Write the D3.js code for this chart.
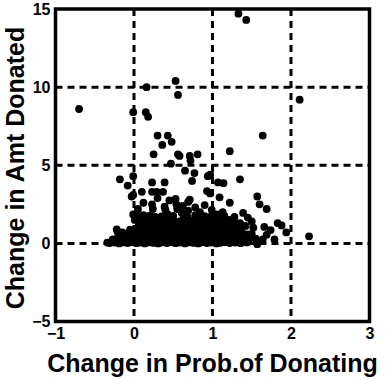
<!DOCTYPE html>
<html>
<head>
<meta charset="utf-8">
<script src="https://cdn.jsdelivr.net/npm/d3@7"></script>
<style>
  body { margin: 0; background: #fff; }
  text { font-family: "Liberation Sans", Arial, sans-serif; font-weight: bold; fill: #000; }
</style>
</head>
<body>
<div id="chart"></div>
<script>
// axis ticks
const xTicks = [-1, 0, 1, 2, 3];
const yTicks = [-5, 0, 5, 10, 15];
const xGrid = [0, 1, 2];
const yGrid = [0, 5, 10];

// [change in prob. of donating, change in amt donated]
const outlierPts = [
  [1.33, 14.7], [1.43, 14.3], [2.11, 9.2], [1.64, 6.9], [1.22, 5.9], [-0.70, 8.6],
  [-0.01, 8.4], [0.16, 10.0], [0.15, 8.4], [0.18, 8.1], [0.53, 10.4], [0.56, 9.5],
  [0.30, 6.9], [0.43, 6.9], [0.36, 6.3], [0.48, 6.5], [0.25, 5.7], [0.56, 5.7],
  [0.47, 5.1], [0.71, 5.6], [0.81, 5.7], [0.72, 5.3], [0.58, 5.6], [0.65, 4.65],
  [0.77, 4.5], [0.74, 4.0], [0.94, 4.3], [0.97, 4.4], [1.07, 3.9], [1.14, 3.85],
  [1.35, 4.1], [1.57, 3.0], [-0.18, 4.1], [-0.08, 3.7], [-0.01, 4.3], [0.23, 3.9],
  [0.39, 3.9], [0.23, 3.3], [0.29, 3.3], [0.37, 3.3], [-0.03, 3.0], [0.93, 3.35],
  [0.97, 3.2], [1.09, 2.95], [0.53, 2.85], [0.71, 2.8], [1.22, 2.6], [1.60, 2.5],
  [1.69, 2.2], [2.23, 0.45]
];

const upperPts = [
  [-0.01, 3.1], [0.23, 2.5], [0.39, 2.35], [0.54, 2.5], [0.69, 2.65], [0.90, 2.45],
  [0.12, 2.6], [0.30, 2.9], [0.45, 2.75], [0.62, 2.4], [0.78, 2.3], [0.10, 3.3],
  [0.05, 2.2], [0.24, 2.2], [0.40, 2.15], [0.55, 2.2], [0.69, 2.1], [0.84, 2.0],
  [0.99, 2.15], [1.13, 2.0], [1.39, 1.95], [-0.01, 1.85], [0.12, 1.8], [0.27, 1.7],
  [0.43, 1.85], [0.61, 1.95], [0.78, 1.8], [0.90, 1.75], [1.06, 1.85], [1.28, 1.7],
  [0.05, 1.75], [0.20, 1.78], [0.35, 1.72], [0.50, 1.76], [0.68, 1.7], [0.85, 1.82],
  [0.98, 1.72], [1.15, 1.78], [1.45, 1.65],
  [0.01, 1.5], [0.17, 1.5], [0.30, 1.45], [0.42, 1.5], [0.52, 1.4], [0.63, 1.55],
  [0.73, 1.45], [0.84, 1.5], [0.93, 1.4], [1.03, 1.55], [1.13, 1.6], [1.21, 1.5],
  [1.35, 1.3], [1.50, 1.4], [1.83, 1.3], [1.66, 1.05], [1.69, 0.55], [1.64, 0.25],
  [1.79, 0.25], [1.94, 0.7], [1.57, -0.05], [1.88, 1.15], [-0.21, 0.75], [-0.15, 0.7],
  [-0.24, 0.25], [-0.34, 0.05], [1.50, 0.6], [1.55, 0.3], [1.52, 1.0], [1.74, 0.85]
];

const bandPts = [
  [-0.31, 0.02], [-0.25, 0.05], [-0.19, 0.0], [-0.13, 0.06], [-0.08, 0.02], [-0.03, 0.08],
  [0.03, 0.01], [0.08, 0.05], [0.14, 0.0], [0.20, 0.07], [0.25, 0.03], [0.31, 0.0],
  [0.36, 0.06], [0.42, 0.02], [0.48, 0.08], [0.53, 0.01], [0.59, 0.05], [0.65, 0.0],
  [0.70, 0.06], [0.76, 0.03], [0.82, 0.0], [0.87, 0.07], [0.93, 0.02], [0.99, 0.05],
  [1.05, 0.0], [1.10, 0.04], [1.16, 0.08], [1.22, 0.02], [1.29, 0.05], [1.36, 0.01],
  [1.44, 0.06],
  [-0.27, 0.25], [-0.20, 0.32], [-0.14, 0.28], [-0.09, 0.35], [-0.03, 0.30], [0.02, 0.27],
  [0.07, 0.34], [0.13, 0.30], [0.18, 0.36], [0.24, 0.28], [0.29, 0.33], [0.35, 0.30],
  [0.41, 0.37], [0.46, 0.29], [0.52, 0.32], [0.57, 0.36], [0.63, 0.28], [0.69, 0.34],
  [0.74, 0.31], [0.80, 0.37], [0.86, 0.29], [0.91, 0.33], [0.97, 0.30], [1.03, 0.36],
  [1.08, 0.28], [1.14, 0.32], [1.20, 0.35], [1.27, 0.29], [1.33, 0.33], [1.40, 0.27],
  [1.47, 0.30],
  [-0.17, 0.58], [-0.10, 0.62], [-0.04, 0.55], [0.01, 0.64], [0.06, 0.60], [0.12, 0.57],
  [0.17, 0.66], [0.23, 0.60], [0.28, 0.63], [0.34, 0.56], [0.39, 0.65], [0.45, 0.60],
  [0.50, 0.58], [0.56, 0.66], [0.62, 0.61], [0.67, 0.55], [0.73, 0.64], [0.78, 0.60],
  [0.84, 0.67], [0.90, 0.58], [0.95, 0.62], [1.01, 0.65], [1.07, 0.57], [1.12, 0.63],
  [1.18, 0.60], [1.25, 0.66], [1.31, 0.56], [1.38, 0.62], [1.45, 0.58],
  [-0.22, 0.90], [-0.05, 0.88], [0.03, 0.93], [0.09, 0.86], [0.15, 0.95], [0.20, 0.90],
  [0.26, 0.87], [0.31, 0.96], [0.37, 0.91], [0.43, 0.88], [0.48, 0.97], [0.54, 0.92],
  [0.60, 0.86], [0.65, 0.95], [0.71, 0.90], [0.77, 0.98], [0.82, 0.88], [0.88, 0.93],
  [0.94, 0.96], [0.99, 0.87], [1.05, 0.92], [1.11, 0.97], [1.17, 0.89], [1.23, 0.94],
  [1.30, 0.90], [1.37, 0.86],
  [0.06, 1.18], [0.14, 1.22], [0.22, 1.16], [0.29, 1.25], [0.35, 1.20], [0.41, 1.15],
  [0.48, 1.24], [0.55, 1.19], [0.62, 1.27], [0.69, 1.17], [0.75, 1.22], [0.81, 1.26],
  [0.88, 1.18], [0.95, 1.23], [1.02, 1.16], [1.09, 1.25], [1.16, 1.20], [1.25, 1.14],
  [1.32, 1.21],
  [0.08, 1.42], [0.24, 1.38], [0.36, 1.44], [0.47, 1.36], [0.58, 1.41], [0.68, 1.35],
  [0.79, 1.43], [0.89, 1.37], [0.98, 1.45], [1.08, 1.38], [1.17, 1.42], [1.28, 1.36],
  [1.42, 1.12]
];

function drawSvg() {
    d3.selectAll("svg").remove();

    const width = 385, height = 380;
    const plot = { left: 55.5, right: 369.5, top: 9, bottom: 321.5 };

    const svg = d3.select("#chart")
        .append("svg")
        .attr("width", width)
        .attr("height", height);

    const x = d3.scaleLinear().domain([-1, 3]).range([plot.left, plot.right]);
    const y = d3.scaleLinear().domain([-5, 15]).range([plot.bottom, plot.top]);

    // dashed grid
    svg.append("g").selectAll("line")
        .data(xGrid)
        .enter()
        .append("line")
        .attr("x1", d => x(d)).attr("x2", d => x(d))
        .attr("y1", plot.top).attr("y2", plot.bottom)
        .attr("stroke", "#000").attr("stroke-width", 3)
        .attr("stroke-dasharray", "7,5");
    svg.append("g").selectAll("line")
        .data(yGrid)
        .enter()
        .append("line")
        .attr("x1", plot.left).attr("x2", plot.right)
        .attr("y1", d => y(d)).attr("y2", d => y(d))
        .attr("stroke", "#000").attr("stroke-width", 3)
        .attr("stroke-dasharray", "7,5");

    // points
    const allPts = bandPts.concat(upperPts, outlierPts);
    svg.append("g").selectAll("circle")
        .data(allPts)
        .enter()
        .append("circle")
        .attr("cx", d => x(d[0]))
        .attr("cy", d => y(d[1]))
        .attr("r", 3.9)
        .attr("fill", "#000");

    // frame
    svg.append("rect")
        .attr("x", plot.left).attr("y", plot.top)
        .attr("width", plot.right - plot.left)
        .attr("height", plot.bottom - plot.top)
        .attr("fill", "none")
        .attr("stroke", "#000")
        .attr("stroke-width", 3.5);

    // axes (labels only)
    const xAxis = svg.append("g")
        .attr("transform", "translate(0," + plot.bottom + ")")
        .call(d3.axisBottom(x).tickValues(xTicks).tickSize(0).tickPadding(6).tickFormat(d3.format("d")));
    xAxis.select(".domain").remove();
    xAxis.selectAll("text").attr("font-size", "16px").attr("font-family", null);

    const yAxis = svg.append("g")
        .attr("transform", "translate(" + plot.left + ",0)")
        .call(d3.axisLeft(y).tickValues(yTicks).tickSize(0).tickPadding(5).tickFormat(d3.format("d")));
    yAxis.select(".domain").remove();
    yAxis.selectAll("text").attr("font-size", "16px").attr("font-family", null);

    // titles
    svg.append("text")
        .attr("x", (plot.left + plot.right) / 2)
        .attr("y", 372)
        .attr("text-anchor", "middle")
        .attr("font-size", "25px")
        .text("Change in Prob.of Donating");

    svg.append("text")
        .attr("transform", "translate(24," + 168 + ") rotate(-90)")
        .attr("text-anchor", "middle")
        .attr("font-size", "25px")
        .text("Change in Amt Donated");
}

drawSvg();
</script>
</body>
</html>
